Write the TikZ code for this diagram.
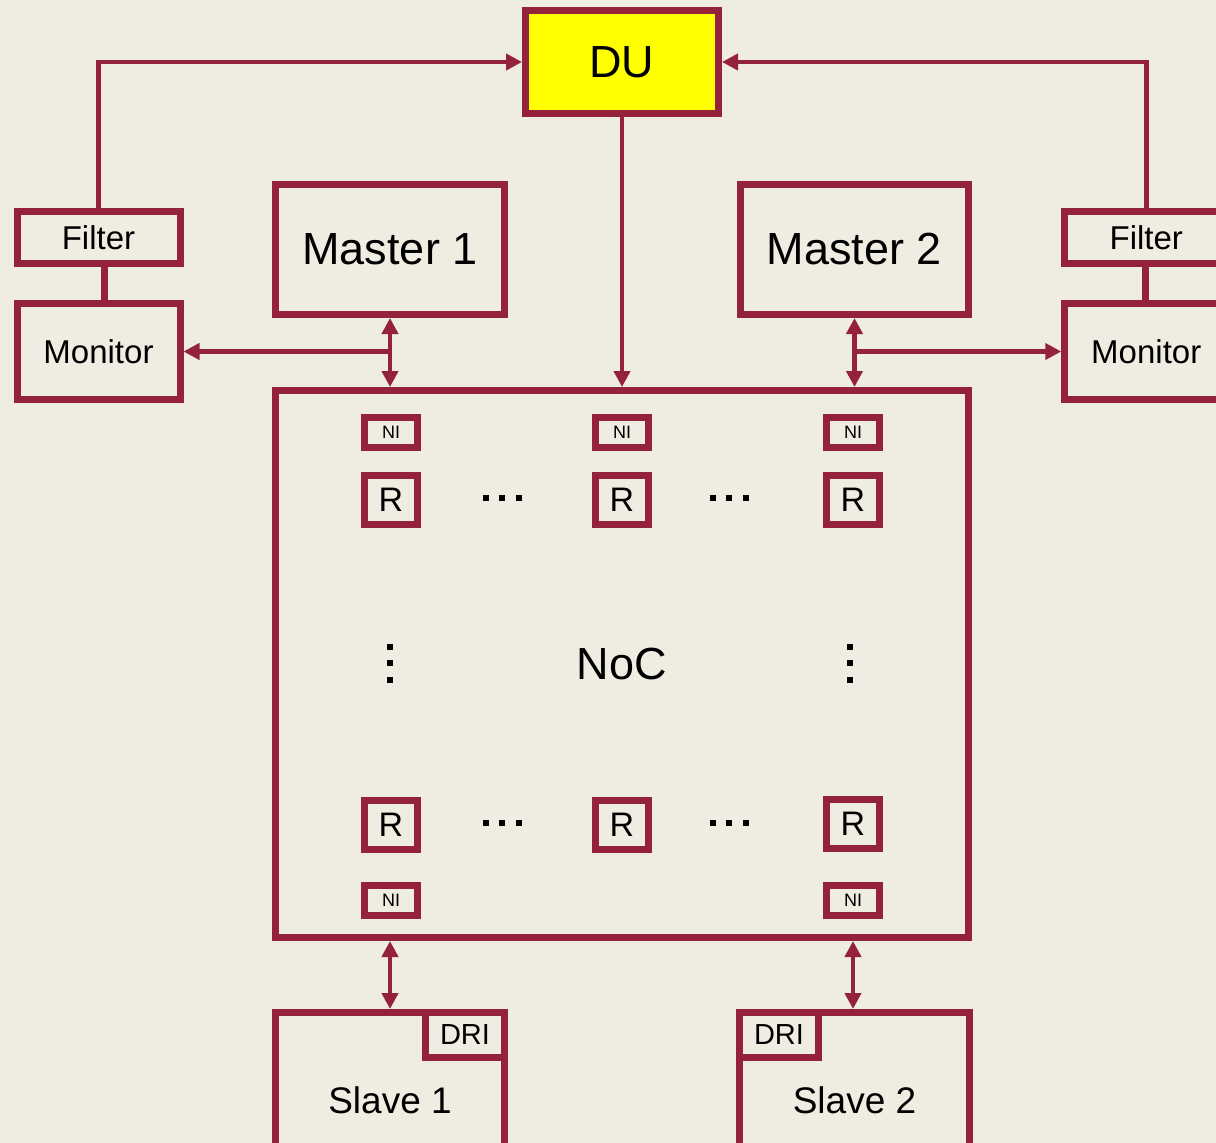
\documentclass[tikz,border=0pt]{standalone}
\usepackage{fontspec}
\setmainfont{Liberation Sans}
\usetikzlibrary{arrows.meta,calc}
\definecolor{bgc}{HTML}{EFECE2}
\definecolor{wine}{HTML}{93223A}
\definecolor{duyellow}{HTML}{FFFF00}
\begin{document}
\begin{tikzpicture}[x=1pt,y=-1pt,
  box/.style={draw=wine,line width=7pt,rectangle,inner sep=0pt,align=center,text=black},
  conn/.style={draw=wine,line width=4.5pt},
  onehead/.style={conn,-{Triangle[length=16pt,width=16pt]}},
  twohead/.style={conn,{Triangle[length=16pt,width=16pt]}-{Triangle[length=16pt,width=16pt]}},
  plainlink/.style={draw=wine,line width=7pt},
  fbig/.style={font=\fontsize{45}{50}\selectfont},
  fmid/.style={font=\fontsize{33}{38}\selectfont},
  fr/.style={font=\fontsize{34}{38}\selectfont},
  fni/.style={font=\fontsize{18}{20}\selectfont},
  fdri/.style={font=\fontsize{29}{32}\selectfont},
  fslave/.style={font=\fontsize{37}{40}\selectfont},
  nibox/.style={box,fni,minimum width=53pt,minimum height=30pt},
  rbox/.style={box,fr,minimum width=53pt,minimum height=49pt},
  dotsq/.style={fill=black}
]
\useasboundingbox (0,0) rectangle (1216,1143);
\fill[bgc] (0,0) rectangle (1216,1143);
\clip (0,0) rectangle (1216,1143);

% main boxes
\node[box,fill=duyellow,fbig,minimum width=193pt,minimum height=103pt] (du) at (622,62) {DU};
\node[box,fmid,minimum width=163pt,minimum height=51.5pt] (filterL) at (98.5,237.25) {Filter};
\node[box,fmid,minimum width=163pt,minimum height=96pt] (monL) at (98.5,351.5) {Monitor};
\node[box,fmid,minimum width=163pt,minimum height=51.5pt] (filterR) at (1146.25,237.25) {Filter};
\node[box,fmid,minimum width=163pt,minimum height=96pt] (monR) at (1146.25,351.5) {Monitor};
\node[box,fbig,minimum width=229pt,minimum height=130pt] (m1) at (390,249.5) {Master 1};
\node[box,fbig,minimum width=228pt,minimum height=130pt] (m2) at (854.5,249.5) {Master 2};
\node[box,fbig,minimum width=693pt,minimum height=547pt] (noc) at (622,664) {NoC};

% NoC internals
\node[nibox] (ni1) at (391,432.5) {NI};
\node[nibox] (ni2) at (622,432.5) {NI};
\node[nibox] (ni3) at (853,432.5) {NI};
\node[rbox] (r1) at (391,500) {R};
\node[rbox] (r2) at (622,500) {R};
\node[rbox] (r3) at (853,500) {R};
\node[rbox] (r4) at (391,825) {R};
\node[rbox] (r5) at (622,825) {R};
\node[rbox] (r6) at (853,824) {R};
\node[nibox] (ni4) at (391,900.5) {NI};
\node[nibox] (ni5) at (853,900.5) {NI};

% dots
\foreach \cx/\cy in {502/497.5, 729/497.5, 502/822.5, 729/822.5}{
  \foreach \d in {-16.5,0,16.5}{
    \fill[dotsq] (\cx+\d-3,\cy-3) rectangle (\cx+\d+3,\cy+3);
  }
}
\foreach \cx/\cy in {390/663, 850/663}{
  \foreach \d in {-16.5,0,16.5}{
    \fill[dotsq] (\cx-3,\cy+\d-3) rectangle (\cx+3,\cy+\d+3);
  }
}

% slaves
\node[box,fslave,minimum width=229pt,minimum height=175pt] (s1) at (390,1100) {Slave 1};
\node[box,fdri,minimum width=79pt,minimum height=45pt] (dri1) at (465,1035) {DRI};
\node[box,fslave,minimum width=230pt,minimum height=175pt] (s2) at (854.5,1100) {Slave 2};
\node[box,fdri,minimum width=79pt,minimum height=45pt] (dri2) at (779,1035) {DRI};

% connectors
\draw[onehead] (filterL.north) |- (du.west);
\draw[onehead] (filterR.north) |- (du.east);
\draw[onehead] (du.south) -- (noc.north -| du.south);
\draw[plainlink] ([xshift=5.5pt]filterL.south) -- ([xshift=5.5pt]monL.north);
\draw[plainlink] ([xshift=-1pt]filterR.south) -- ([xshift=-1pt]monR.north);
\draw[twohead] (m1.south) -- (noc.north -| m1.south);
\draw[twohead] (m2.south) -- (noc.north -| m2.south);
\coordinate (tapL) at (m1.south |- monL.east);
\coordinate (tapR) at (m2.south |- monR.west);
\draw[onehead] (tapL) -- (monL.east);
\draw[onehead] (tapR) -- (monR.west);
\draw[twohead] (noc.south -| s1.north) -- (s1.north);
\draw[twohead] (noc.south -| 853,0) -- (s2.north -| 853,0);
\end{tikzpicture}
\end{document}
